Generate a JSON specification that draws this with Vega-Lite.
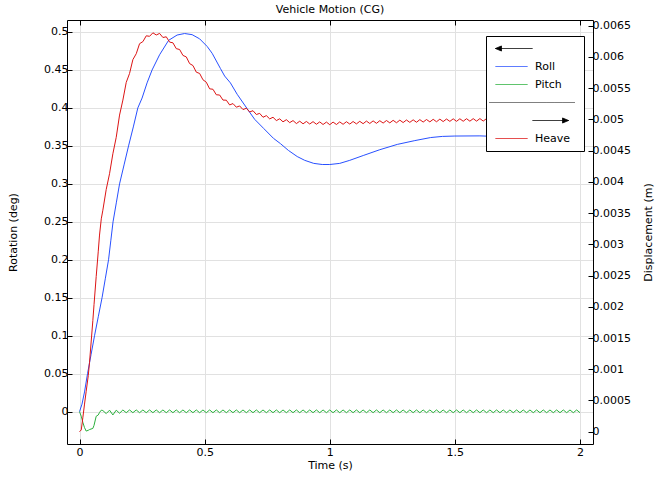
{
  "$schema": "https://vega.github.io/schema/vega-lite/v6.json",
  "width": 526,
  "height": 424,
  "autosize": {"type": "none"},
  "padding": {"left": 67, "top": 20, "right": 63, "bottom": 33},
  "background": "white",
  "title": {"text": "Vehicle Motion (CG)", "fontSize": 11, "font": "DejaVu Sans", "fontWeight": "normal", "color": "black", "offset": 5},
  "config": {
    "font": "DejaVu Sans",
    "view": {"stroke": null},
    "axis": {
      "domainColor": "black", "domainWidth": 1, "tickColor": "black", "tickWidth": 1, "tickSize": -5,
      "labelFont": "DejaVu Sans", "labelFontSize": 11, "labelColor": "black",
      "titleFont": "DejaVu Sans", "titleFontSize": 11, "titleFontWeight": "normal", "titleColor": "black",
      "gridColor": "#e1e1e1", "gridWidth": 1, "gridOpacity": 1, "labelPadding": 4, "labelFlush": false, "labelOverlap": false
    },
    "legend": {
      "orient": "none", "legendX": 419, "legendY": 16, "fillColor": "white", "strokeColor": "black",
      "padding": 7, "symbolSize": 100, "symbolStrokeWidth": 1, "labelOffset": 31, "rowPadding": 6,
      "labelFont": "DejaVu Sans", "labelFontSize": 11, "labelColor": "black", "symbolOpacity": 1
    }
  },
  "datasets": {
    "r": [
      {"t":0,"r":0},{"t":0.01,"r":0.01},{"t":0.02,"r":0.026},{"t":0.032,"r":0.05},{"t":0.046,"r":0.075},{"t":0.06,"r":0.1},{"t":0.075,"r":0.125},{"t":0.09,"r":0.15},{"t":0.103,"r":0.175},{"t":0.116,"r":0.2},{"t":0.125,"r":0.225},{"t":0.134,"r":0.25},{"t":0.147,"r":0.275},{"t":0.16,"r":0.3},{"t":0.178,"r":0.325},{"t":0.196,"r":0.35},{"t":0.215,"r":0.375},{"t":0.233,"r":0.4},{"t":0.25,"r":0.413},{"t":0.27,"r":0.433},{"t":0.29,"r":0.45},{"t":0.32,"r":0.47},{"t":0.356,"r":0.489},{"t":0.39,"r":0.496},{"t":0.42,"r":0.498},{"t":0.45,"r":0.4965},{"t":0.48,"r":0.491},{"t":0.51,"r":0.481},{"t":0.53,"r":0.472},{"t":0.563,"r":0.452},{"t":0.58,"r":0.442},{"t":0.603,"r":0.433},{"t":0.63,"r":0.418},{"t":0.67,"r":0.399},{"t":0.7,"r":0.385},{"t":0.736,"r":0.373},{"t":0.775,"r":0.36},{"t":0.803,"r":0.353},{"t":0.835,"r":0.344},{"t":0.87,"r":0.336},{"t":0.9,"r":0.331},{"t":0.936,"r":0.327},{"t":0.97,"r":0.3255},{"t":1.0,"r":0.3255},{"t":1.04,"r":0.327},{"t":1.08,"r":0.331},{"t":1.136,"r":0.3376},{"t":1.2,"r":0.345},{"t":1.27,"r":0.352},{"t":1.34,"r":0.357},{"t":1.403,"r":0.361},{"t":1.45,"r":0.3625},{"t":1.5,"r":0.363},{"t":1.6,"r":0.3632},{"t":1.7,"r":0.362},{"t":1.8,"r":0.3605},{"t":1.9,"r":0.3585},{"t":2.0,"r":0.357}
    ],
    "g": [
      {"t":0,"p":0,"h":0},{"t":0.007,"p":-0.006,"h":0.000028},{"t":0.0133,"p":-0.014,"h":0.000223},{"t":0.02,"p":-0.021,"h":0.000442},{"t":0.0267,"p":-0.0255,"h":0.000648},{"t":0.035,"p":-0.0245,"h":0.000898},{"t":0.04,"p":-0.0235,"h":0.00111},{"t":0.0533,"p":-0.022,"h":0.001779},{"t":0.058,"p":-0.018,"h":0.002034},{"t":0.0667,"p":-0.006,"h":0.002484},{"t":0.075,"p":-0.0043,"h":0.00289},{"t":0.08,"p":-0.001,"h":0.003148},{"t":0.087,"p":0.002,"h":0.003408},{"t":0.0933,"p":0.0015,"h":0.003546},{"t":0.1067,"p":-0.0025,"h":0.003878},{"t":0.12,"p":0.002,"h":0.00413},{"t":0.1333,"p":-0.0043,"h":0.004449},{"t":0.1467,"p":0.002,"h":0.004713},{"t":0.16,"p":-0.002,"h":0.005069},
      {"t":0.1733,"p":0.0023,"h":0.005309},{"t":0.1867,"p":-0.0013,"h":0.005592},{"t":0.2,"p":0.0023,"h":0.005735},{"t":0.2133,"p":-0.0013,"h":0.005957},{"t":0.2267,"p":0.0023,"h":0.006051},{"t":0.24,"p":-0.0013,"h":0.006212},{"t":0.2533,"p":0.0023,"h":0.006245},{"t":0.2667,"p":-0.0013,"h":0.006338},{"t":0.28,"p":0.0023,"h":0.00633},{"t":0.2933,"p":-0.0013,"h":0.006386},{"t":0.3067,"p":0.0023,"h":0.006351},{"t":0.32,"p":-0.0013,"h":0.006376},{"t":0.3333,"p":0.0023,"h":0.006311},{"t":0.3467,"p":-0.0013,"h":0.006322},{"t":0.36,"p":0.0023,"h":0.006237},{"t":0.3733,"p":-0.0013,"h":0.006226},{"t":0.3867,"p":0.0023,"h":0.006132},{"t":0.4,"p":-0.0013,"h":0.006119},{"t":0.4133,"p":0.0023,"h":0.006024},{"t":0.4267,"p":-0.0013,"h":0.006},{"t":0.44,"p":0.0023,"h":0.005893},{"t":0.4533,"p":-0.0013,"h":0.005862},{"t":0.4667,"p":0.0023,"h":0.005756},{"t":0.48,"p":-0.0013,"h":0.005735},{"t":0.4933,"p":0.0023,"h":0.005634},{"t":0.5067,"p":-0.0013,"h":0.005595},{"t":0.52,"p":0.0023,"h":0.005489},{"t":0.5333,"p":-0.0013,"h":0.005482},{"t":0.5467,"p":0.0023,"h":0.005394},{"t":0.56,"p":-0.0013,"h":0.00539},{"t":0.5733,"p":0.0023,"h":0.005309},{"t":0.5867,"p":-0.0013,"h":0.005307},{"t":0.6,"p":0.0023,"h":0.005231},{"t":0.6133,"p":-0.0013,"h":0.005253},{"t":0.6267,"p":0.0023,"h":0.005195},{"t":0.64,"p":-0.0013,"h":0.005215},{"t":0.6533,"p":0.0023,"h":0.005157},{"t":0.6667,"p":-0.0013,"h":0.005178},{"t":0.68,"p":0.0023,"h":0.005119},{"t":0.6933,"p":-0.0013,"h":0.005139},{"t":0.7067,"p":0.0023,"h":0.005078},{"t":0.72,"p":-0.0013,"h":0.005096},{"t":0.7333,"p":0.0023,"h":0.005034},{"t":0.7467,"p":-0.0013,"h":0.00506},{"t":0.76,"p":0.0023,"h":0.005008},{"t":0.7733,"p":-0.0013,"h":0.005034},{"t":0.7867,"p":0.0023,"h":0.004981},{"t":0.8,"p":-0.0013,"h":0.005009},{"t":0.8133,"p":0.0023,"h":0.004961},{"t":0.8267,"p":-0.0013,"h":0.004995},{"t":0.84,"p":0.0023,"h":0.004948},{"t":0.8533,"p":-0.0013,"h":0.004981},{"t":0.8667,"p":0.0023,"h":0.004933},{"t":0.88,"p":-0.0013,"h":0.004971},{"t":0.8933,"p":0.0023,"h":0.004929},{"t":0.9067,"p":-0.0013,"h":0.004967},{"t":0.92,"p":0.0023,"h":0.004926},{"t":0.9333,"p":-0.0013,"h":0.004964},{"t":0.9467,"p":0.0023,"h":0.004922},{"t":0.96,"p":-0.0013,"h":0.00496},{"t":0.9733,"p":0.0023,"h":0.004918},{"t":0.9867,"p":-0.0013,"h":0.004957},{"t":1.0,"p":0.0023,"h":0.004915},
      {"t":1.0133,"p":-0.0013,"h":0.004957},{"t":1.0267,"p":0.0023,"h":0.004918},{"t":1.04,"p":-0.0013,"h":0.00496},{"t":1.0533,"p":0.0023,"h":0.004921},{"t":1.0667,"p":-0.0013,"h":0.004963},{"t":1.08,"p":0.0023,"h":0.004925},{"t":1.0933,"p":-0.0013,"h":0.004966},{"t":1.1067,"p":0.0023,"h":0.004928},{"t":1.12,"p":-0.0013,"h":0.004969},{"t":1.1333,"p":0.0023,"h":0.004931},{"t":1.1467,"p":-0.0013,"h":0.004973},{"t":1.16,"p":0.0023,"h":0.004934},{"t":1.1733,"p":-0.0013,"h":0.004976},{"t":1.1867,"p":0.0023,"h":0.004937},{"t":1.2,"p":-0.0013,"h":0.004979},{"t":1.2133,"p":0.0023,"h":0.004941},{"t":1.2267,"p":-0.0013,"h":0.004982},{"t":1.24,"p":0.0023,"h":0.004944},{"t":1.2533,"p":-0.0013,"h":0.004985},{"t":1.2667,"p":0.0023,"h":0.004946},{"t":1.28,"p":-0.0013,"h":0.004988},{"t":1.2933,"p":0.0023,"h":0.004949},{"t":1.3067,"p":-0.0013,"h":0.00499},{"t":1.32,"p":0.0023,"h":0.004952},{"t":1.3333,"p":-0.0013,"h":0.004993},{"t":1.3467,"p":0.0023,"h":0.004954},{"t":1.36,"p":-0.0013,"h":0.004996},{"t":1.3733,"p":0.0023,"h":0.004957},{"t":1.3867,"p":-0.0013,"h":0.004998},{"t":1.4,"p":0.0023,"h":0.00496},{"t":1.4133,"p":-0.0013,"h":0.005001},{"t":1.4267,"p":0.0023,"h":0.004962},{"t":1.44,"p":-0.0013,"h":0.005004},{"t":1.4533,"p":0.0023,"h":0.004965},{"t":1.4667,"p":-0.0013,"h":0.005006},{"t":1.48,"p":0.0023,"h":0.004968},{"t":1.4933,"p":-0.0013,"h":0.005009},{"t":1.5067,"p":0.0023,"h":0.004969},{"t":1.52,"p":-0.0013,"h":0.00501},{"t":1.5333,"p":0.0023,"h":0.00497},{"t":1.5467,"p":-0.0013,"h":0.005011},{"t":1.56,"p":0.0023,"h":0.004971},{"t":1.5733,"p":-0.0013,"h":0.005012},{"t":1.5867,"p":0.0023,"h":0.004972},{"t":1.6,"p":-0.0013,"h":0.005013},{"t":1.6133,"p":0.0023,"h":0.004973},{"t":1.6267,"p":-0.0013,"h":0.005013},{"t":1.64,"p":0.0023,"h":0.004974},{"t":1.6533,"p":-0.0013,"h":0.005014},{"t":1.6667,"p":0.0023,"h":0.004975},{"t":1.68,"p":-0.0013,"h":0.005015},{"t":1.6933,"p":0.0023,"h":0.004976},{"t":1.7067,"p":-0.0013,"h":0.005016},{"t":1.72,"p":0.0023,"h":0.004977},{"t":1.7333,"p":-0.0013,"h":0.005017},{"t":1.7467,"p":0.0023,"h":0.004978},{"t":1.76,"p":-0.0013,"h":0.005018},{"t":1.7733,"p":0.0023,"h":0.004979},{"t":1.7867,"p":-0.0013,"h":0.005019},{"t":1.8,"p":0.0023,"h":0.00498},{"t":1.8133,"p":-0.0013,"h":0.00502},{"t":1.8267,"p":0.0023,"h":0.004981},{"t":1.84,"p":-0.0013,"h":0.005021},{"t":1.8533,"p":0.0023,"h":0.004982},{"t":1.8667,"p":-0.0013,"h":0.005022},{"t":1.88,"p":0.0023,"h":0.004983},{"t":1.8933,"p":-0.0013,"h":0.005023},{"t":1.9067,"p":0.0023,"h":0.004984},{"t":1.92,"p":-0.0013,"h":0.005024},{"t":1.9333,"p":0.0023,"h":0.004985},{"t":1.9467,"p":-0.0013,"h":0.005025},{"t":1.96,"p":0.0023,"h":0.004986},{"t":1.9733,"p":-0.0013,"h":0.005026},{"t":1.9867,"p":0.0023,"h":0.004987},{"t":2.0,"p":-0.0013,"h":0.005027}
    ]
  },
  "layer": [
    {
      "layer": [
        {
          "data": {"name": "r"},
          "mark": {"type": "line", "strokeWidth": 1},
          "encoding": {
            "x": {"field": "t", "type": "quantitative",
              "scale": {"domain": [-0.05, 2.052], "nice": false, "zero": false},
              "axis": {"orient": "bottom", "values": [0, 0.5, 1, 1.5, 2], "format": "~g", "title": "Time (s)", "grid": true, "labelPadding": 7, "titlePadding": 2}},
            "y": {"field": "r", "type": "quantitative",
              "scale": {"domain": [-0.04253, 0.5158], "nice": false, "zero": false},
              "axis": {"orient": "left", "values": [0, 0.05, 0.1, 0.15, 0.2, 0.25, 0.3, 0.35, 0.4, 0.45, 0.5], "format": ".2~f", "title": "Rotation (deg)", "grid": true, "titlePadding": 25}},
            "color": {"datum": "Roll",
              "scale": {"domain": ["arrowL", "Roll", "Pitch", "sep", "arrowR", "Heave"], "range": ["black", "#2850ff", "#2ab03c", "black", "black", "#dc1414"]},
              "legend": {
                "title": null,
                "labelExpr": "datum.label == 'arrowL' || datum.label == 'sep' || datum.label == 'arrowR' ? '' : datum.label",
                "encode": {
                  "symbols": {
                    "update": {
                      "shape": {"signal": "datum.value == 'arrowL' ? 'M-0.6,0H6.8M-0.6,0L0.6,-0.5L0.6,0.5Z' : datum.value == 'arrowR' ? 'M6.8,0H14M14,0L12.8,-0.5L12.8,0.5Z' : datum.value == 'sep' ? 'M-1.8,0H15.2' : 'M-0.6,0H5.8'"},
                      "fill": {"signal": "datum.value == 'arrowL' || datum.value == 'arrowR' ? 'black' : 'transparent'"},
                      "strokeDash": {"signal": "datum.value == 'sep' ? [1, 1] : [1, 0]"}
                    }
                  }
                }
              }
            }
          }
        },
        {
          "data": {"name": "g"},
          "mark": {"type": "line", "strokeWidth": 1},
          "encoding": {
            "x": {"field": "t", "type": "quantitative"},
            "y": {"field": "p", "type": "quantitative"},
            "color": {"datum": "Pitch"}
          }
        }
      ]
    },
    {
      "data": {"name": "g"},
      "mark": {"type": "line", "strokeWidth": 1},
      "encoding": {
        "x": {"field": "t", "type": "quantitative",
          "axis": {"orient": "top", "values": [0, 0.5, 1, 1.5, 2], "labels": false, "title": null, "grid": false}},
        "y": {"field": "h", "type": "quantitative",
          "scale": {"domain": [-0.000197, 0.006591], "nice": false, "zero": false},
          "axis": {"orient": "right", "values": [0, 0.0005, 0.001, 0.0015, 0.002, 0.0025, 0.003, 0.0035, 0.004, 0.0045, 0.005, 0.0055, 0.006, 0.0065], "format": ".4~f", "title": "Displacement (m)", "titleAngle": 270, "grid": false, "titlePadding": 23}},
        "color": {"datum": "Heave"}
      }
    }
  ],
  "resolve": {"scale": {"y": "independent"}, "axis": {"x": "independent", "y": "independent"}}
}
